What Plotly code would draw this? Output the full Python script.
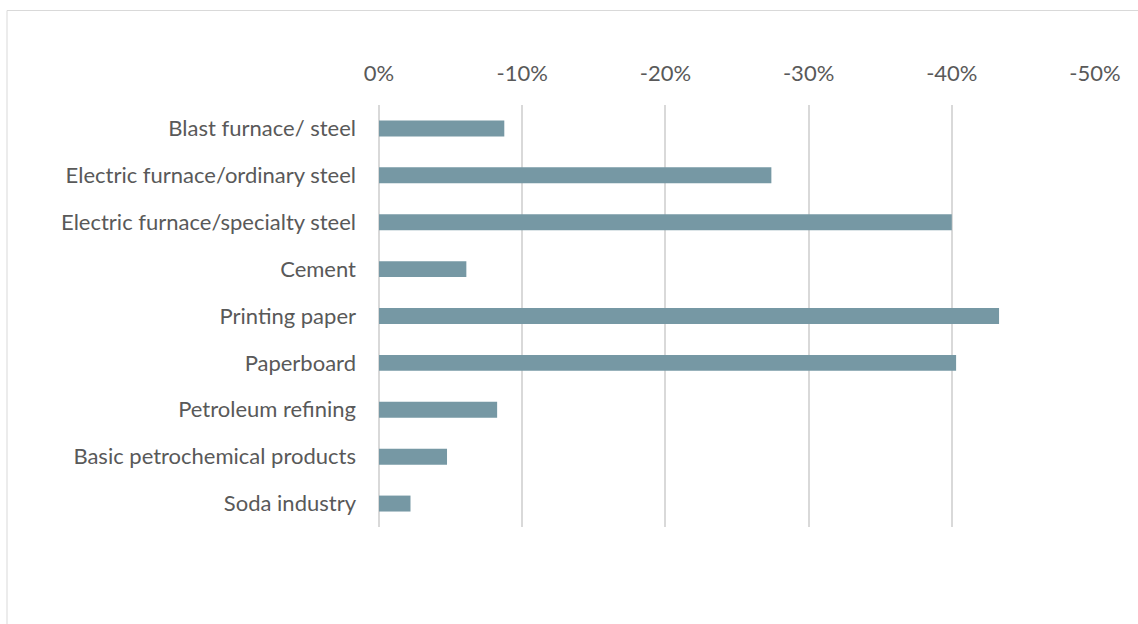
import plotly.graph_objects as go

# Change in energy use by industry (%)
industries = [
    "Blast furnace/ steel",
    "Electric furnace/ordinary steel",
    "Electric furnace/specialty steel",
    "Cement",
    "Printing paper",
    "Paperboard",
    "Petroleum refining",
    "Basic petrochemical products",
    "Soda industry",
]
change_pct = [-8.75, -27.4, -40.0, -6.1, -43.3, -40.3, -8.25, -4.75, -2.2]

tick_vals = [0, -10, -20, -30, -40, -50]
tick_text = ["0%", "-10%", "-20%", "-30%", "-40%", "-50%"]

FONT = "Lato, sans-serif"
TEXT_COLOR = "#595959"
GRID_COLOR = "#d9d9d9"

fig = go.Figure(
    go.Bar(
        x=change_pct,
        y=industries,
        orientation="h",
        marker=dict(color="#7698A4", line=dict(width=0)),
        hoverinfo="x+y",
    )
)

fig.update_layout(
    width=1138,
    height=624,
    margin=dict(l=379, r=43, t=105, b=97),
    plot_bgcolor="white",
    paper_bgcolor="white",
    bargap=0.66,
    showlegend=False,
    font=dict(family=FONT, size=22, color=TEXT_COLOR),
    shapes=[
        dict(
            type="rect",
            xref="paper",
            yref="paper",
            x0=(7 - 379) / 716,
            x1=(1160 - 379) / 716,
            y0=(527 - 640) / 422,
            y1=(527 - 10.5) / 422,
            line=dict(color=GRID_COLOR, width=1),
            fillcolor="rgba(0,0,0,0)",
            layer="below",
        )
    ],
)

fig.update_xaxes(
    side="top",
    range=[0, -50],
    tickvals=tick_vals,
    ticktext=tick_text,
    showgrid=True,
    gridcolor=GRID_COLOR,
    gridwidth=1.5,
    zeroline=True,
    zerolinecolor=GRID_COLOR,
    zerolinewidth=1.5,
    showline=False,
    ticks="",
    ticklabelstandoff=19,
    tickfont=dict(family=FONT, size=22, color=TEXT_COLOR),
    fixedrange=True,
)

fig.update_yaxes(
    autorange="reversed",
    showgrid=False,
    zeroline=False,
    showline=False,
    ticks="",
    ticklabelstandoff=22,
    tickfont=dict(family=FONT, size=22, color=TEXT_COLOR),
    fixedrange=True,
)

fig.write_html("out.html")
